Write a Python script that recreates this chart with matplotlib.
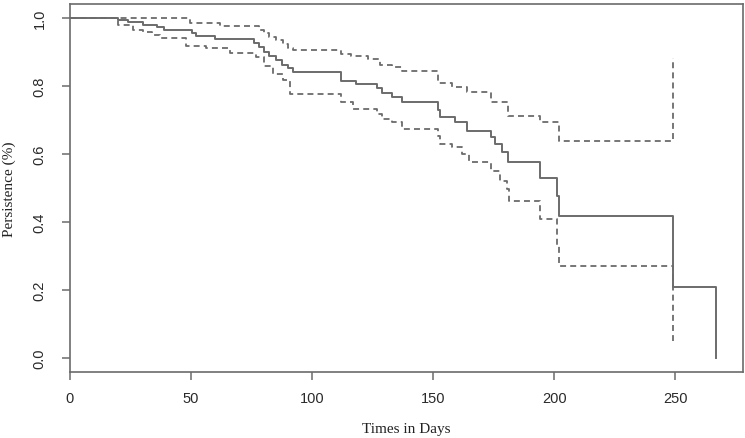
import numpy as np
import matplotlib
matplotlib.use('Agg')
import matplotlib.pyplot as plt

# Kaplan-Meier estimate
surv_days = [0, 20, 24, 30, 36, 39, 50.5, 52, 60, 76, 78, 80, 82, 85, 87.5, 90, 92,
             112, 118, 127, 129, 133, 137, 152, 153, 159, 164, 174, 175.5, 178.5, 181,
             194, 201, 202, 249, 267]
surv = [1.0, 0.994, 0.988, 0.978, 0.972, 0.965, 0.955, 0.948, 0.937, 0.927, 0.916,
        0.900, 0.888, 0.877, 0.863, 0.854, 0.840, 0.816, 0.805, 0.793, 0.778, 0.769,
        0.752, 0.730, 0.708, 0.693, 0.668, 0.649, 0.628, 0.605, 0.575, 0.529, 0.476,
        0.418, 0.208, 0.0]

# upper confidence band
upper_days = [0, 49.5, 62, 78, 80, 82, 85, 88, 90, 92, 112, 116, 123, 128, 133, 137,
              152, 158, 164, 174, 181, 194, 202, 249]
upper = [1.0, 0.985, 0.976, 0.966, 0.955, 0.945, 0.935, 0.922, 0.913, 0.907, 0.893,
         0.887, 0.878, 0.863, 0.855, 0.843, 0.81, 0.796, 0.781, 0.752, 0.712, 0.693,
         0.638, 0.883]

# lower confidence band
lower_days = [0, 20, 26, 30, 34, 37, 48, 56, 66, 77, 80, 84, 88, 91, 112, 117, 127,
              129, 133, 137, 152, 153, 158, 162, 165, 174, 177.5, 180.5, 181.5, 194,
              201, 202, 249]
lower = [1.0, 0.98, 0.966, 0.958, 0.95, 0.942, 0.917, 0.912, 0.898, 0.884, 0.858,
         0.834, 0.819, 0.775, 0.752, 0.733, 0.717, 0.702, 0.693, 0.673, 0.652, 0.628,
         0.62, 0.599, 0.576, 0.55, 0.521, 0.496, 0.462, 0.408, 0.33, 0.271, 0.05]

x_ticks = [0, 50, 100, 150, 200, 250]
y_ticks = [0.0, 0.2, 0.4, 0.6, 0.8, 1.0]

grey = '#6b6b6b'
fig = plt.figure(figsize=(7.45, 4.39), dpi=100, facecolor='white')
ax = fig.add_axes([70 / 745, 1 - 373 / 439, 673 / 745, 368 / 439])

ax.step(surv_days, surv, where='post', color=grey, linewidth=1.4)
ax.step(upper_days, upper, where='post', color=grey, linewidth=1.3,
        dashes=(3.3, 2.3))
ax.step(lower_days, lower, where='post', color=grey, linewidth=1.3,
        dashes=(3.3, 2.3))

ax.set_xlim(0, 278)
ax.set_ylim(-0.041, 1.041)
for s in ax.spines.values():
    s.set_color(grey)
    s.set_linewidth(1.2)

ax.set_xticks(x_ticks)
ax.set_xticklabels([str(t) for t in x_ticks], fontfamily='Liberation Sans')
ax.set_yticks(y_ticks)
ax.set_yticklabels(['%.1f' % t for t in y_ticks], rotation=90, va='center',
                   fontfamily='Liberation Sans')
ax.tick_params(axis='both', direction='out', length=6, width=1.1, color=grey,
               labelsize=10.5, labelcolor='#2a2a2a')
ax.tick_params(axis='x', pad=8)
ax.tick_params(axis='y', pad=11)

ax.set_xlabel('Times in Days', fontfamily='Liberation Serif', fontsize=11,
              labelpad=12, color='#222222')
ax.set_ylabel('Persistence (%)', fontfamily='Liberation Serif', fontsize=11,
              labelpad=12, color='#222222')

fig.savefig('out.png', dpi=100, facecolor='white')
